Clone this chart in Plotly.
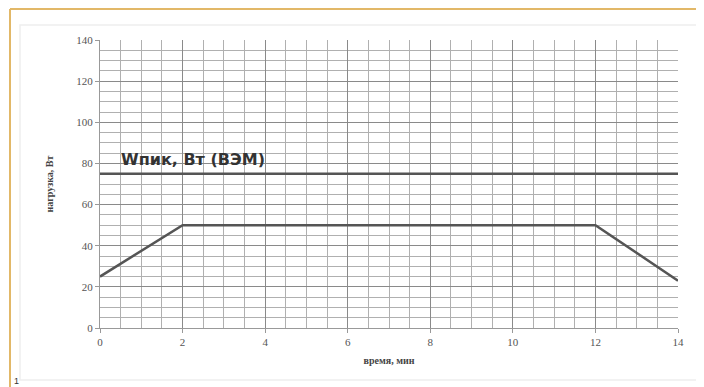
import plotly.graph_objects as go

# Data
time_peak = [0, 14]
w_peak = [75, 75]
time_load = [0, 2, 12, 14]
load = [25, 50, 50, 23]
x_ticks = [0, 2, 4, 6, 8, 10, 12, 14]
y_ticks = [0, 20, 40, 60, 80, 100, 120, 140]
annotation_text = "<b>Wпик, Вт (ВЭМ)</b>"

OFF = 8  # page body margin
W, H = 704, 387
L, T = 100 - OFF, 40 - OFF
R = W - (678 - OFF)
B = H - (328 - OFF)
pw, ph = W - L - R, H - T - B

def px(x):
    return (x - OFF - L) / pw

def py(y):
    return (H - B - (y - OFF)) / ph

fig = go.Figure()
fig.add_trace(go.Scatter(x=time_peak, y=w_peak, mode="lines",
                         line=dict(color="#555555", width=2.5), showlegend=False))
fig.add_trace(go.Scatter(x=time_load, y=load, mode="lines",
                         line=dict(color="#555555", width=2.5), showlegend=False))

fig.add_annotation(x=0.45, y=75, xref="x", yref="y", text=annotation_text,
                   showarrow=False, xanchor="left", yanchor="bottom", yshift=3,
                   font=dict(family="DejaVu Sans", size=16, color="#333333"))

fig.update_layout(
    width=W, height=H,
    margin=dict(l=L, r=R, t=T, b=B),
    paper_bgcolor="white", plot_bgcolor="white",
    font=dict(family="Liberation Serif", size=11, color="#555555"),
    shapes=[
        dict(type="rect", xref="paper", yref="paper",
             x0=px(20), x1=px(700), y0=py(380), y1=py(25),
             line=dict(color="#eeeeee", width=1.5), layer="below"),
        dict(type="line", xref="paper", yref="paper",
             x0=px(10), x1=px(10), y0=py(9), y1=py(400),
             line=dict(color="#E2B868", width=2)),
        dict(type="line", xref="paper", yref="paper",
             x0=px(10), x1=px(720), y0=py(9), y1=py(9),
             line=dict(color="#E2B868", width=2)),
    ],
)

fig.update_xaxes(range=[0, 14], tickvals=x_ticks, ticktext=[str(v) for v in x_ticks],
                 showgrid=True, gridcolor="#8a8a8a", gridwidth=1,
                 minor=dict(dtick=0.5, showgrid=True, gridcolor="#b0b0b0", gridwidth=1),
                 showline=True, linecolor="#999999", ticks="outside", ticklen=4,
                 tickcolor="#999999", zeroline=False,
                 title=dict(text="<b>время, мин</b>", standoff=9,
                            font=dict(family="Liberation Serif", size=10, color="#444444")))
fig.update_yaxes(range=[0, 140], tickvals=y_ticks, ticktext=[str(v) for v in y_ticks],
                 showgrid=True, gridcolor="#8a8a8a", gridwidth=1,
                 minor=dict(dtick=5, showgrid=True, gridcolor="#b0b0b0", gridwidth=1),
                 showline=True, linecolor="#999999", ticks="outside", ticklen=4,
                 tickcolor="#999999", zeroline=False,
                 title=dict(text="<b>нагрузка, Вт</b>", standoff=20,
                            font=dict(family="Liberation Serif", size=10, color="#444444")))

fig.add_annotation(x=px(12), y=py(381), xref="paper", yref="paper", text="1",
                   showarrow=False, yanchor="middle",
                   font=dict(family="Liberation Sans", size=9, color="#333"))

fig.write_html("out.html")
